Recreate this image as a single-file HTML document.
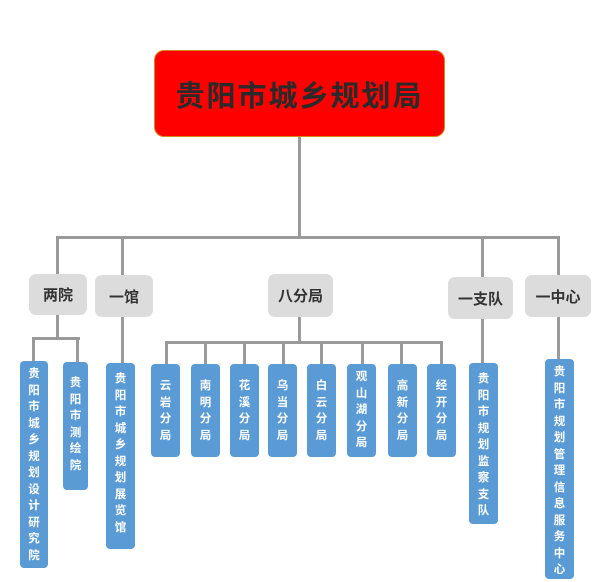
<!DOCTYPE html>
<html><head><meta charset="utf-8"><style>
html,body{margin:0;padding:0;background:#fff;}
body{width:600px;height:582px;position:relative;overflow:hidden;font-family:"Liberation Sans","Noto Sans CJK SC",sans-serif;}
.l{position:absolute;background:#9a9a9a;}
.top{position:absolute;left:154px;top:50px;width:289px;height:85px;background:#ff0000;border:1px solid #d08a1a;border-radius:10px;display:flex;align-items:center;justify-content:center;font-size:29px;font-weight:bold;color:#2a2a2a;letter-spacing:2px;}
.g{position:absolute;background:#dcdcdc;border-radius:7px;display:flex;align-items:center;justify-content:center;font-size:15px;font-weight:bold;color:#333;}
.b{position:absolute;background:#5b9bd5;border-radius:4px;color:#fff;font-size:11.5px;font-weight:bold;text-align:center;line-height:16.5px;box-sizing:border-box;}
</style></head><body>
<div class="top">贵阳市城乡规划局</div>
<!-- main lines -->
<div class="l" style="left:298px;top:137px;width:3px;height:101px"></div>
<div class="l" style="left:56px;top:236px;width:504px;height:3px"></div>
<div class="l" style="left:56px;top:236px;width:3px;height:39px"></div>
<div class="l" style="left:121px;top:236px;width:3px;height:39px"></div>
<div class="l" style="left:481px;top:236px;width:3px;height:41px"></div>
<div class="l" style="left:557px;top:236px;width:3px;height:39px"></div>

<div class="g" style="left:29px;top:274px;width:58px;height:41px">两院</div>
<div class="g" style="left:95px;top:275px;width:58px;height:42px">一馆</div>
<div class="g" style="left:268px;top:274px;width:65px;height:43px">八分局</div>
<div class="g" style="left:448px;top:277px;width:65px;height:42px">一支队</div>
<div class="g" style="left:525px;top:275px;width:66px;height:42px">一中心</div>

<!-- 两院 -->
<div class="l" style="left:56px;top:315px;width:3px;height:23px"></div>
<div class="l" style="left:32px;top:337px;width:48px;height:3px"></div>
<div class="l" style="left:32px;top:337px;width:3px;height:25px"></div>
<div class="l" style="left:76px;top:337px;width:3px;height:25px"></div>
<div class="b" style="left:20px;top:361px;width:28px;height:207px;padding-top:5px">贵<br>阳<br>市<br>城<br>乡<br>规<br>划<br>设<br>计<br>研<br>究<br>院</div>
<div class="b" style="left:63px;top:362px;width:25px;height:128px;padding-top:13px">贵<br>阳<br>市<br>测<br>绘<br>院</div>
<!-- 一馆 -->
<div class="l" style="left:121px;top:317px;width:3px;height:46px"></div>
<div class="b" style="left:106px;top:363px;width:29px;height:186px;padding-top:8px">贵<br>阳<br>市<br>城<br>乡<br>规<br>划<br>展<br>览<br>馆</div>
<!-- 八分局 -->
<div class="l" style="left:298px;top:317px;width:3px;height:26px"></div>
<div class="l" style="left:165px;top:341px;width:278px;height:3px"></div>
<div class="l" style="left:165px;top:341px;width:3px;height:23px"></div>
<div class="l" style="left:204px;top:341px;width:3px;height:23px"></div>
<div class="l" style="left:243px;top:341px;width:3px;height:23px"></div>
<div class="l" style="left:282px;top:341px;width:3px;height:23px"></div>
<div class="l" style="left:320px;top:341px;width:3px;height:23px"></div>
<div class="l" style="left:361px;top:341px;width:3px;height:23px"></div>
<div class="l" style="left:400px;top:341px;width:3px;height:23px"></div>
<div class="l" style="left:440px;top:341px;width:3px;height:23px"></div>
<div class="b" style="left:151px;top:364px;width:29px;height:93px;padding-top:14px">云<br>岩<br>分<br>局</div>
<div class="b" style="left:191px;top:364px;width:29px;height:93px;padding-top:14px">南<br>明<br>分<br>局</div>
<div class="b" style="left:230px;top:364px;width:29px;height:93px;padding-top:14px">花<br>溪<br>分<br>局</div>
<div class="b" style="left:268px;top:364px;width:29px;height:93px;padding-top:14px">乌<br>当<br>分<br>局</div>
<div class="b" style="left:307px;top:364px;width:29px;height:93px;padding-top:14px">白<br>云<br>分<br>局</div>
<div class="b" style="left:347px;top:364px;width:29px;height:93px;padding-top:5px">观<br>山<br>湖<br>分<br>局</div>
<div class="b" style="left:388px;top:364px;width:29px;height:93px;padding-top:14px">高<br>新<br>分<br>局</div>
<div class="b" style="left:427px;top:364px;width:29px;height:93px;padding-top:14px">经<br>开<br>分<br>局</div>
<!-- 一支队 -->
<div class="l" style="left:481px;top:319px;width:3px;height:44px"></div>
<div class="b" style="left:469px;top:363px;width:29px;height:161px;padding-top:8px">贵<br>阳<br>市<br>规<br>划<br>监<br>察<br>支<br>队</div>
<!-- 一中心 -->
<div class="l" style="left:557px;top:317px;width:3px;height:42px"></div>
<div class="b" style="left:545px;top:359px;width:29px;height:220px;padding-top:5px">贵<br>阳<br>市<br>规<br>划<br>管<br>理<br>信<br>息<br>服<br>务<br>中<br>心</div>
</body></html>
